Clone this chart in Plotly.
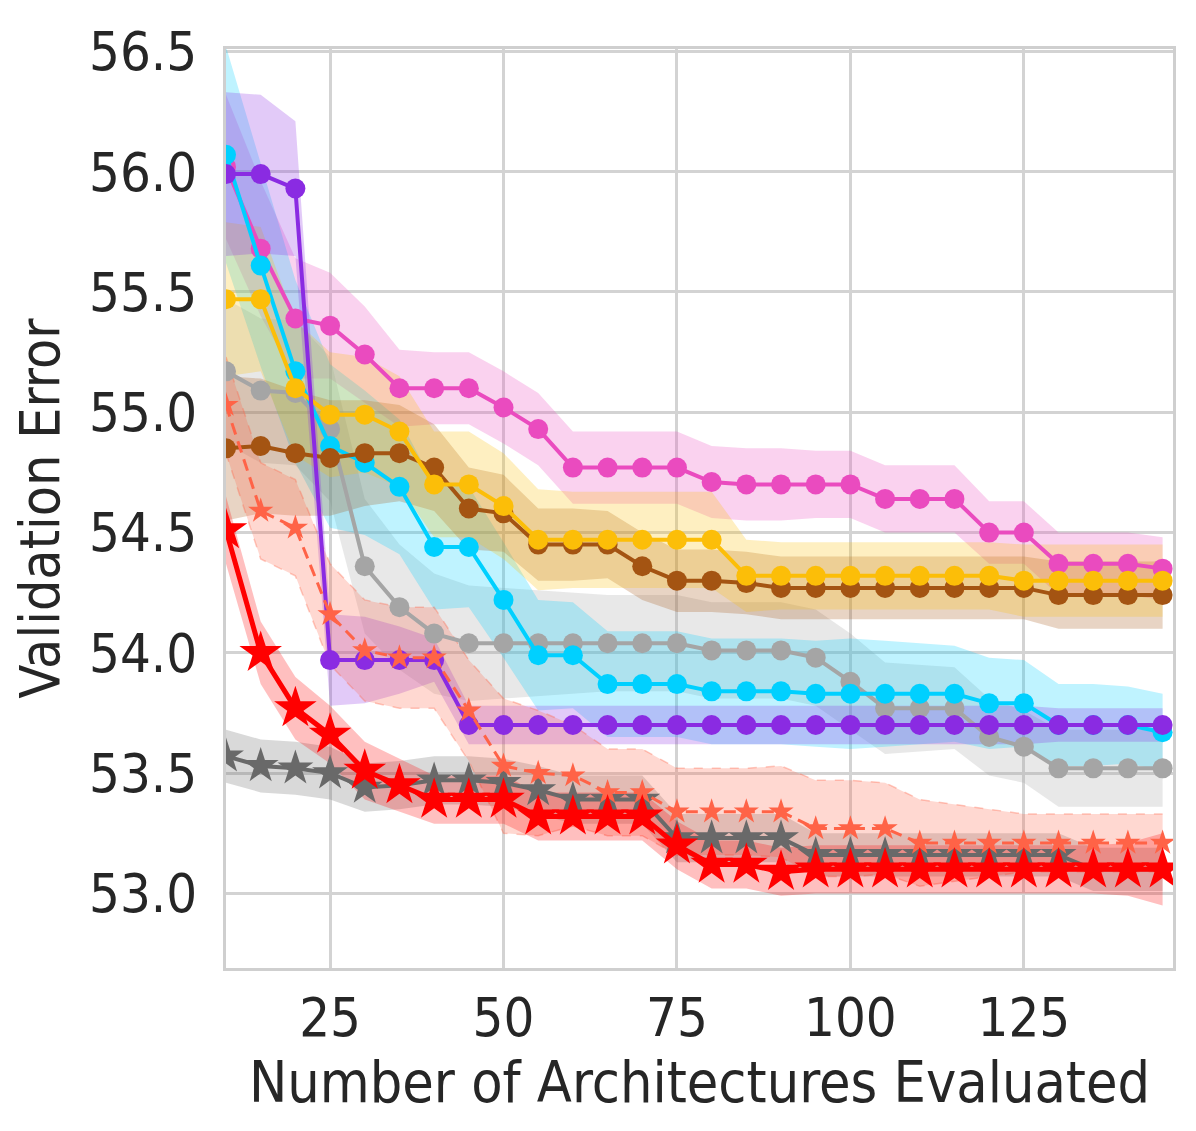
import numpy as np
import plotly.graph_objects as go

# number of architectures evaluated
evals = [10, 15, 20, 25, 30, 35, 40, 45, 50, 55, 60, 65, 70, 75, 80,
         85, 90, 95, 100, 105, 110, 115, 120, 125, 130, 135, 140, 145]

# mean validation error per method
pink = [56.02, 55.68, 55.39, 55.36, 55.24, 55.10, 55.10, 55.10, 55.02, 54.93, 54.77, 54.77, 54.77, 54.77,
        54.71, 54.70, 54.70, 54.70, 54.70, 54.64, 54.64, 54.64, 54.50, 54.50, 54.37, 54.37, 54.37, 54.35]
pink_sd = [0.30, 0.28, 0.25, 0.22, 0.20, 0.16, 0.15, 0.15, 0.15, 0.15, 0.15, 0.15, 0.15, 0.15,
           0.15, 0.15, 0.15, 0.14, 0.14, 0.14, 0.14, 0.14, 0.13, 0.13, 0.13, 0.13, 0.13, 0.13]

purple = [55.99, 55.99, 55.93, 53.97, 53.97, 53.97, 53.97, 53.70, 53.70, 53.70, 53.70, 53.70, 53.70, 53.70,
          53.70, 53.70, 53.70, 53.70, 53.70, 53.70, 53.70, 53.70, 53.70, 53.70, 53.70, 53.70, 53.70, 53.70]
purple_sd = [0.34, 0.33, 0.28, 0.19, 0.18, 0.14, 0.09, 0.08, 0.08, 0.08, 0.08, 0.08, 0.08, 0.08,
             0.08, 0.08, 0.08, 0.08, 0.08, 0.08, 0.08, 0.08, 0.08, 0.08, 0.07, 0.07, 0.07, 0.07]

cyan = [56.07, 55.61, 55.17, 54.86, 54.79, 54.69, 54.44, 54.44, 54.22, 53.99, 53.99, 53.87, 53.87, 53.87,
        53.84, 53.84, 53.84, 53.83, 53.83, 53.83, 53.83, 53.83, 53.79, 53.79, 53.70, 53.70, 53.70, 53.67]
cyan_sd = [0.45, 0.42, 0.38, 0.34, 0.30, 0.28, 0.26, 0.25, 0.24, 0.23, 0.22, 0.22, 0.22, 0.22,
           0.22, 0.22, 0.22, 0.22, 0.23, 0.22, 0.21, 0.20, 0.19, 0.18, 0.17, 0.17, 0.16, 0.16]

yellow = [55.47, 55.47, 55.10, 54.99, 54.99, 54.92, 54.70, 54.70, 54.61, 54.47, 54.47, 54.47, 54.47, 54.47,
          54.47, 54.32, 54.32, 54.32, 54.32, 54.32, 54.32, 54.32, 54.32, 54.30, 54.30, 54.30, 54.30, 54.30]
yellow_sd = [0.32, 0.30, 0.28, 0.26, 0.24, 0.23, 0.22, 0.22, 0.22, 0.21, 0.20, 0.20, 0.20, 0.20,
             0.20, 0.15, 0.14, 0.14, 0.14, 0.14, 0.14, 0.14, 0.14, 0.15, 0.15, 0.15, 0.15, 0.15]

brown = [54.85, 54.86, 54.83, 54.81, 54.83, 54.83, 54.77, 54.60, 54.58, 54.45, 54.45, 54.45, 54.36, 54.30,
         54.30, 54.29, 54.27, 54.27, 54.27, 54.27, 54.27, 54.27, 54.27, 54.27, 54.24, 54.24, 54.24, 54.24]
brown_sd = [0.30, 0.28, 0.26, 0.24, 0.22, 0.20, 0.18, 0.17, 0.16, 0.15, 0.15, 0.14, 0.14, 0.13,
            0.13, 0.13, 0.13, 0.13, 0.13, 0.13, 0.13, 0.13, 0.13, 0.13, 0.14, 0.14, 0.14, 0.14]

gray = [55.17, 55.09, 55.08, 54.93, 54.36, 54.19, 54.08, 54.04, 54.04, 54.04, 54.04, 54.04, 54.04, 54.04,
        54.01, 54.01, 54.01, 53.98, 53.88, 53.77, 53.77, 53.77, 53.65, 53.61, 53.52, 53.52, 53.52, 53.52]
gray_sd = [0.30, 0.30, 0.30, 0.30, 0.28, 0.26, 0.25, 0.24, 0.23, 0.22, 0.21, 0.20, 0.20, 0.20,
           0.20, 0.20, 0.20, 0.20, 0.20, 0.19, 0.18, 0.17, 0.16, 0.15, 0.16, 0.16, 0.16, 0.16]

dimgray = [53.57, 53.53, 53.52, 53.50, 53.44, 53.45, 53.47, 53.47, 53.46, 53.43, 53.39, 53.39, 53.39, 53.23,
           53.23, 53.23, 53.23, 53.16, 53.16, 53.16, 53.16, 53.16, 53.16, 53.16, 53.16, 53.10, 53.10, 53.10]
dimgray_sd = [0.11, 0.11, 0.11, 0.11, 0.10, 0.10, 0.10, 0.10, 0.10, 0.10, 0.10, 0.10, 0.10, 0.10,
              0.10, 0.10, 0.10, 0.09, 0.09, 0.09, 0.09, 0.09, 0.09, 0.09, 0.09, 0.09, 0.09, 0.09]

tomato = [55.03, 54.59, 54.52, 54.16, 54.01, 53.98, 53.98, 53.76, 53.53, 53.50, 53.49, 53.42, 53.42, 53.34,
          53.34, 53.34, 53.34, 53.27, 53.27, 53.27, 53.21, 53.21, 53.21, 53.21, 53.21, 53.21, 53.21, 53.21]
tomato_sd = [0.20, 0.20, 0.20, 0.21, 0.21, 0.21, 0.21, 0.21, 0.28, 0.26, 0.21, 0.18, 0.18, 0.18,
             0.18, 0.18, 0.19, 0.20, 0.20, 0.19, 0.18, 0.16, 0.14, 0.12, 0.12, 0.12, 0.12, 0.12]

red = [54.51, 54.00, 53.77, 53.66, 53.51, 53.45, 53.39, 53.39, 53.39, 53.32, 53.32, 53.32, 53.32, 53.20,
       53.12, 53.12, 53.09, 53.10, 53.10, 53.10, 53.10, 53.10, 53.10, 53.10, 53.10, 53.10, 53.10, 53.10]
red_sd = [0.14, 0.13, 0.13, 0.12, 0.12, 0.11, 0.10, 0.10, 0.10, 0.10, 0.10, 0.10, 0.10, 0.10,
          0.10, 0.10, 0.10, 0.10, 0.10, 0.10, 0.10, 0.10, 0.10, 0.10, 0.10, 0.10, 0.11, 0.15]

# drawing order, bottom to top: (mean, sd, rgb, symbol, size, line width, dash)
series = [
    (pink, pink_sd, (234, 75, 191), 'circle', 20, 4, 'solid'),
    (gray, gray_sd, (165, 165, 165), 'circle', 20, 4, 'solid'),
    (cyan, cyan_sd, (0, 208, 255), 'circle', 20, 4, 'solid'),
    (brown, brown_sd, (164, 84, 18), 'circle', 20, 4, 'solid'),
    (yellow, yellow_sd, (252, 190, 8), 'circle', 20, 4, 'solid'),
    (purple, purple_sd, (138, 43, 226), 'circle', 20, 4, 'solid'),
    (dimgray, dimgray_sd, (105, 105, 105), 'star', 27, 4, 'solid'),
    (tomato, tomato_sd, (255, 99, 71), 'star', 19, 3, 'dash'),
    (red, red_sd, (255, 0, 0), 'star', 32, 5, 'solid'),
]


def rgba(c, a):
    return 'rgba(%d,%d,%d,%s)' % (c[0], c[1], c[2], a)


fig = go.Figure()

# shaded std bands first
for mean, sd, col, sym, size, lw, dash in series:
    m = np.array(mean)
    s = np.array(sd)
    edge = dict(width=1.5, color=rgba(col, 0.35), dash='dash') if dash == 'dash' else dict(width=0)
    fig.add_trace(go.Scatter(x=evals, y=m + s, mode='lines', line=edge,
                             showlegend=False, hoverinfo='skip'))
    fig.add_trace(go.Scatter(x=evals, y=m - s, mode='lines', line=edge, fill='tonexty',
                             fillcolor=rgba(col, 0.25), showlegend=False, hoverinfo='skip'))

# mean curves with markers
for mean, sd, col, sym, size, lw, dash in series:
    fig.add_trace(go.Scatter(
        x=evals, y=mean, mode='lines+markers',
        line=dict(color=rgba(col, 1), width=lw, dash='12px,7px' if dash == 'dash' else 'solid'),
        marker=dict(symbol=sym, size=size, color=rgba(col, 1), line=dict(width=0)),
        showlegend=False))

font_family = 'DejaVu Sans Condensed, DejaVu Sans, sans-serif'

# page body has an 8px margin, so margins are shifted to land the plot in place
fig.update_layout(
    width=1196, height=1131,
    margin=dict(l=218, r=31, t=37, b=171),
    paper_bgcolor='white', plot_bgcolor='white',
    font=dict(family=font_family, size=54, color='#262626'),
    showlegend=False,
)

fig.update_xaxes(
    range=[10, 146.5],
    tickvals=[25, 50, 75, 100, 125],
    showgrid=True, gridcolor='#d3d3d3', gridwidth=2.5,
    showline=True, linecolor='#cfcfcf', linewidth=3, mirror=True,
    ticks='', zeroline=False,
    title=dict(text='Number of Architectures Evaluated', standoff=10,
               font=dict(size=57, family=font_family)),
)
fig.update_yaxes(
    range=[52.69, 56.51],
    tickvals=[53.0, 53.5, 54.0, 54.5, 55.0, 55.5, 56.0, 56.5],
    tickformat='.1f',
    showgrid=True, gridcolor='#d3d3d3', gridwidth=2.5,
    showline=True, linecolor='#cfcfcf', linewidth=3, mirror=True,
    ticks='outside', ticklen=15, tickcolor='rgba(0,0,0,0)',
    zeroline=False,
    title=dict(text='Validation Error', standoff=12,
               font=dict(size=55, family=font_family)),
)

fig.write_html('out.html')
